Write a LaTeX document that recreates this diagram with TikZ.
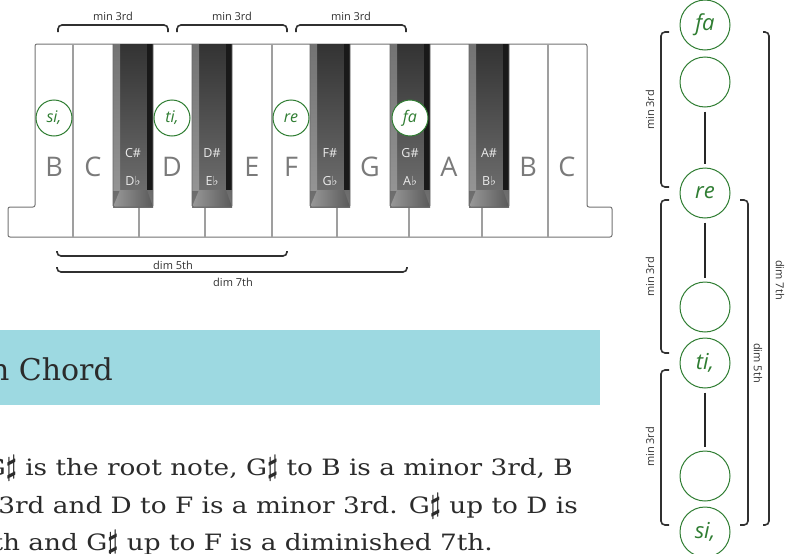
\documentclass[tikz,border=0pt]{standalone}
\usepackage{fontspec}
\usepackage{graphicx}
\setmainfont{DejaVu Serif}
\setsansfont{Open Sans}
\newfontfamily\symfont{DejaVu Sans}
\newfontfamily\bodyserif{DejaVu Serif}[FakeStretch=1.17]
\usepackage{tikz}
\definecolor{solgreen}{HTML}{2F7D32}
\definecolor{bannerblue}{HTML}{9DD9E1}
\definecolor{keygray}{HTML}{7A7A7A}
\definecolor{bracegray}{HTML}{303030}
\definecolor{bodytext}{HTML}{2B2B2B}
\newcommand{\flt}{{\symfont ♭}}
\newcommand{\shp}{\raisebox{-0.04em}{\scalebox{1.2}[1.4]{\boldmath$\sharp$}}}

\begin{document}
\begin{tikzpicture}[
 x=1pt,y=-1pt,
 font=\sffamily,
 solnote/.style={circle,draw=solgreen,fill=white,line width=1pt,minimum size=36pt,inner sep=0pt,text=solgreen,font=\sffamily\itshape\fontsize{16}{16}\selectfont},
 bignote/.style={solnote,minimum size=50pt,font=\sffamily\itshape\fontsize{22}{22}\selectfont},
 brc/.style={draw=bracegray,line width=1.6pt,rounded corners=4pt},
 brclabel/.style={font=\sffamily\fontsize{11}{11}\selectfont,text=bracegray,inner sep=0pt},
 keyname/.style={font=\sffamily\fontsize{27}{27}\selectfont,text=keygray,inner sep=0pt},
 sharpname/.style={font=\sffamily\fontsize{12.5}{12.5}\selectfont,text=white!85!gray,inner sep=0pt},
 keysep/.style={draw=gray!75,line width=1.5pt},
 link/.style={line width=2.2pt,draw=black!85,shorten <=4pt,shorten >=4pt},
 bodyline/.style={font=\bodyserif\fontsize{22.5}{22.5}\selectfont,text=bodytext,inner sep=0pt,anchor=base east}
]
\useasboundingbox (0,0) rectangle (798,554);

% white keys
\draw[fill=white,draw=black!55,line width=1pt,rounded corners=2pt] (35,44) -- (587,44) -- (587,207) -- (612,207) -- (612,237) -- (8,237) -- (8,207) -- (35,207) -- cycle;
\foreach \sx in {73,272,548} \draw[keysep] (\sx,44) -- (\sx,237);
\foreach \sx in {139,205,337,409,482} \draw[keysep] (\sx,207) -- (\sx,237);

% black keys
\foreach \bx/\up/\dn/\nm in {113/C/D/cs,192/D/E/ds,310/F/G/fs,390/G/A/gs,469/A/B/as} {
  \shade[top color=black!80,bottom color=black!55] (\bx,44) rectangle (\bx+40,207);
  \shade[top color=black!55,bottom color=black!42] (\bx,44) rectangle (\bx+7,190);
  \fill[black!90] (\bx+34,44) rectangle (\bx+40,190);
  \shade[left color=black!40,right color=black!65] (\bx,207) -- (\bx+7,190) -- (\bx+34,190) -- (\bx+40,207) -- cycle;
  \draw[black!60,line width=0.8pt,rounded corners=1.5pt] (\bx,44) -- (\bx,207) -- (\bx+40,207) -- (\bx+40,44);
  \node[sharpname] (\nm-up) at (\bx+20,153) {\up\#};
  \node[sharpname] (\nm-dn) at (\bx+20,181) {\dn\flt};
}

% key names
\foreach \kx/\kn/\id in {54/B/kb1,93/C/kc1,172/D/kd,252/E/ke,291/F/kf,370/G/kg,449/A/ka,528/B/kb2,567/C/kc2}
  \node[keyname] (\id) at (\kx,167) {\kn};

% solfege on the keys
\node[solnote] (ksi) at (54,118) {si,};
\node[solnote] (kti) at (172,118) {ti,};
\node[solnote] (kre) at (291,118) {re};
\node[solnote] (kfa) at (410,118) {fa};

% intervals over / under the keyboard
\draw[brc] (58,32) |- (113,25) -| (168,32);
\draw[brc] (177,32) |- (232,25) -| (287,32);
\draw[brc] (296,32) |- (351,25) -| (406,32);
\node[brclabel] (top1) at (113,16) {min 3rd};
\node[brclabel] (top2) at (232,16) {min 3rd};
\node[brclabel] (top3) at (351,16) {min 3rd};
\draw[brc] (57,251) |- (172,256) -| (287,251);
\node[brclabel] (dimfive) at (173,265) {dim 5th};
\draw[brc] (57,267) |- (232,272) -| (407,267);
\node[brclabel] (dimseven) at (233,282) {dim 7th};

% heading and text
\fill[bannerblue] (0,330) rectangle (600,405);
\begin{scope}
\clip (0,300) rectangle (600,554);
\node[bodyline,font=\rmfamily\fontsize{30}{30}\selectfont] (head) at (113,380) {n Chord};
\node[bodyline] (line1) at (573,475) {G\shp{} is the root note, G\shp{} to B is a minor 3rd, B};
\node[bodyline] (line2) at (578,513) {3rd and D to F is a minor 3rd. G\shp{} up to D is};
\node[bodyline] (line3) at (493,550) {th and G\shp{} up to F is a diminished 7th.};
\end{scope}

% stacked chord
\node[bignote] (fa) at (705,25) {fa};
\node[bignote] (e1) at (705,82) {};
\node[bignote] (re) at (705,193) {re};
\node[bignote] (e2) at (705,307) {};
\node[bignote] (ti) at (705,363) {ti,};
\node[bignote] (e3) at (705,476) {};
\node[bignote] (si) at (705,532) {si,};
\draw[link] (e1) -- (re);
\draw[link] (re) -- (e2);
\draw[link] (ti) -- (e3);

\draw[brc] (669,32) -| (661,110) |- (669,187);
\draw[brc] (669,200) -| (661,277) |- (669,353);
\draw[brc] (669,370) -| (661,447) |- (669,525);
\node[brclabel,rotate=90] (side1) at (650,110) {min 3rd};
\node[brclabel,rotate=90] (side2) at (650,277) {min 3rd};
\node[brclabel,rotate=90] (side3) at (650,447) {min 3rd};
\draw[brc] (740,200) -| (748,363) |- (740,525);
\node[brclabel,rotate=-90] (side5) at (758,363) {dim 5th};
\draw[brc] (763,32) -| (769,280) |- (763,525);
\node[brclabel,rotate=-90] (side7) at (780,280) {dim 7th};
\end{tikzpicture}
\end{document}
